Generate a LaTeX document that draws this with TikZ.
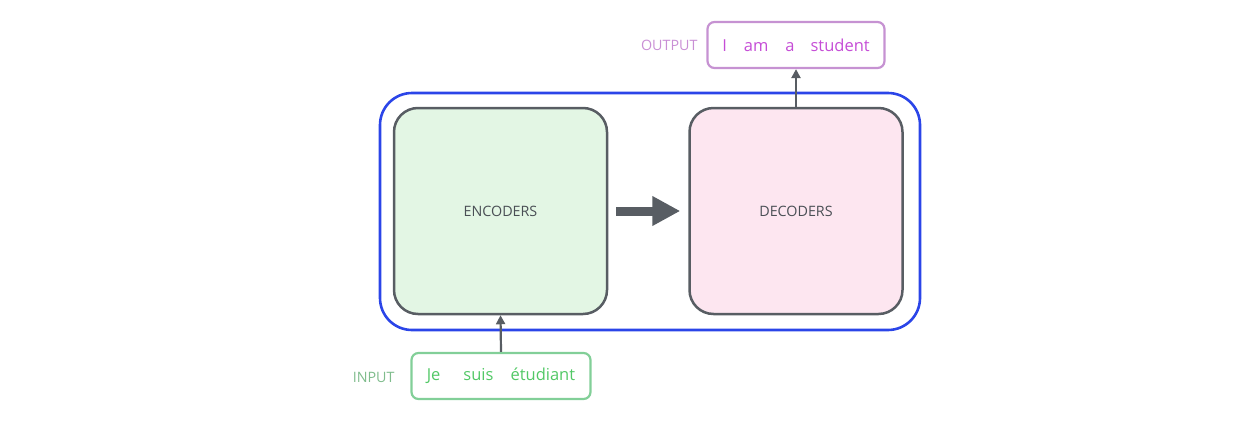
\documentclass[tikz,border=0pt]{standalone}
\usepackage{fontspec}
\setmainfont{Open Sans}
\usetikzlibrary{arrows.meta}
\definecolor{blueb}{HTML}{2B45E8}
\definecolor{grayb}{HTML}{585D63}
\definecolor{grayt}{HTML}{4A4F55}
\definecolor{encfill}{HTML}{E3F6E4}
\definecolor{decfill}{HTML}{FDE6F0}
\definecolor{outb}{HTML}{C692D2}
\definecolor{outt}{HTML}{C54DD6}
\definecolor{outl}{HTML}{C98FD5}
\definecolor{inb}{HTML}{82CF98}
\definecolor{intx}{HTML}{52C866}
\definecolor{inl}{HTML}{7FBC8C}
\tikzset{
  block/.style={draw=grayb, line width=2.5pt, rounded corners=24pt, minimum width=213pt, minimum height=206pt, inner sep=0pt, font=\fontsize{14.3}{16}\selectfont, text=grayt},
  wordbox/.style={line width=2.2pt, rounded corners=7pt, minimum height=46pt, inner sep=0pt, font=\fontsize{16.5}{19}\selectfont},
  lab/.style={font=\fontsize{14.3}{16}\selectfont, anchor=east},
  thin/.style={grayb, line width=2.2pt, -{Triangle[width=9pt,length=9pt]}}
}
\begin{document}
\begin{tikzpicture}[x=1pt,y=-1pt]
\useasboundingbox (0,0) rectangle (1258,426);
\draw[blueb, line width=2.6pt, rounded corners=32pt] (380,93) rectangle (920,330);
\node[block, fill=encfill] (enc) at (500.5,211) {ENCODERS};
\node[block, fill=decfill] (dec) at (796,211) {DECODERS};
\node[wordbox, draw=outb, text=outt, minimum width=177pt] (out) at (796,45) {I\hspace{17pt}am\hspace{17pt}a\hspace{16pt}student};
\node[wordbox, draw=inb, text=intx, minimum width=179pt] (in) at (501,376) {Je\hspace{23pt}suis\hspace{17pt}étudiant};
\node[lab, text=outl] (outlab) at (701,45) {OUTPUT};
\node[lab, text=inl] (inlab) at (398,377) {INPUT};
\draw[thin] (in.north) -- (enc.south);
\draw[thin] (dec.north) -- (out.south);
\draw[grayb, line width=9pt, -{Triangle[width=28pt,length=28pt]}] ([xshift=8pt]enc.east) -- ([xshift=-8pt]dec.west);
\end{tikzpicture}
\end{document}
